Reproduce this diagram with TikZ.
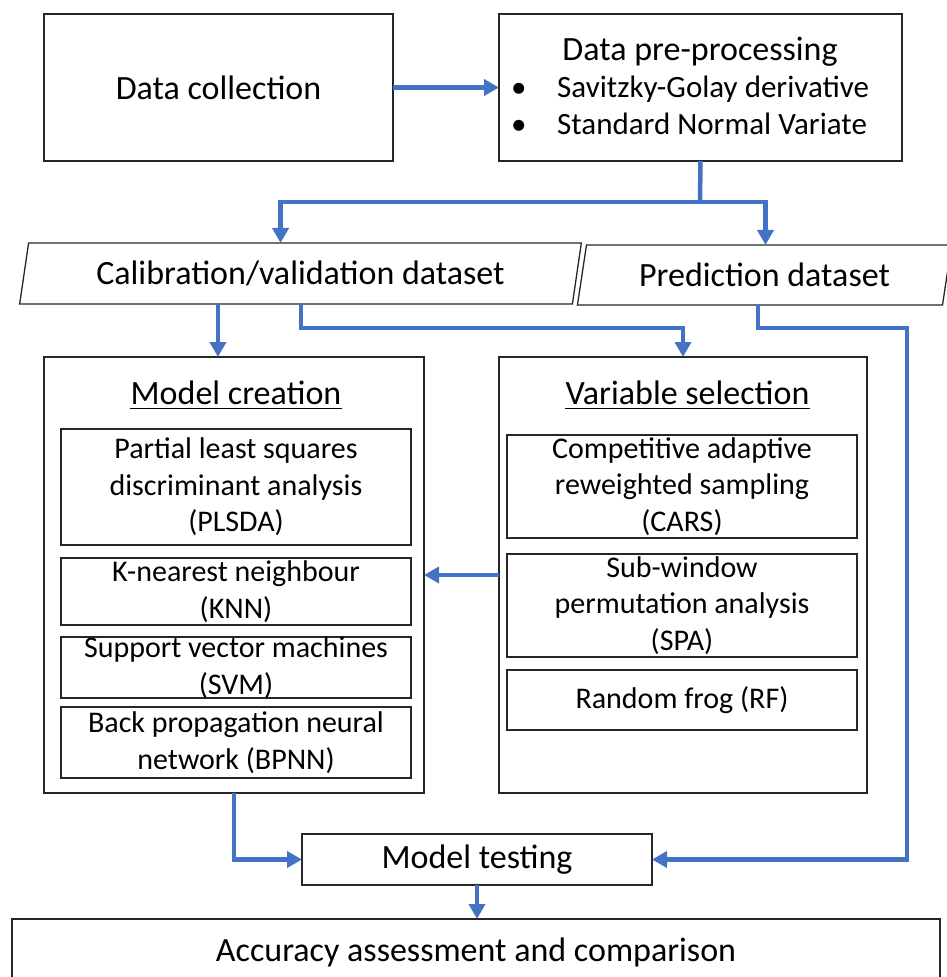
\documentclass[tikz,border=0pt]{standalone}
\usepackage{fontspec}
\setmainfont{Carlito}
\usetikzlibrary{arrows.meta,shapes.geometric}
\definecolor{flowblue}{HTML}{4472C4}
\definecolor{edgegray}{HTML}{262626}

\begin{document}
\begin{tikzpicture}[x=1pt,y=-1pt] % pixel grid, y goes down
\tikzstyle{box} = [draw=edgegray, line width=1.3pt, rectangle, inner sep=0pt, outer sep=0pt, align=center] % plain box
\tikzstyle{big} = [font=\fontsize{34}{41}\selectfont] % main labels
\tikzstyle{small} = [font=\fontsize{30}{36.5}\selectfont] % method boxes
\tikzstyle{method} = [box, small, minimum width=350, inner ysep=-4pt] % boxes inside the two panels
\tikzstyle{dataset} = [box, big, trapezium, trapezium left angle=75, trapezium right angle=105, trapezium stretches=true] % slanted data boxes
\tikzstyle{title} = [inner sep=0pt, big] % panel headings
\tikzstyle{flow} = [draw=flowblue, line width=4.5pt, -{Triangle[length=15pt,width=16pt]}] % blue arrows

\useasboundingbox (0,0) rectangle (946,977);

% top row
\node[box, big, minimum width=349, minimum height=147] (coll) at (218.5,87.5) {Data collection};
\node[box, minimum width=403, minimum height=147] (prep) at (700.5,87.5) {};
\node[title] (prept) at (700,52) {Data pre-processing};
\node[anchor=west, inner sep=0pt, font=\fontsize{31}{37}\selectfont] (prepl) at (511,108.5)
    {\begin{tabular}{@{}p{46pt}@{}l@{}}
     \textbullet & Savitzky-Golay derivative\\
     \textbullet & Standard Normal Variate
     \end{tabular}};

% datasets
\node[dataset, minimum width=563, minimum height=61] (cal) at (300.5,273.5) {Calibration/validation dataset};
\node[dataset, minimum width=375, minimum height=60] (pred) at (764.5,275) {Prediction dataset};

% model creation panel
\node[box, minimum width=380, minimum height=436] (mc) at (234,575) {};
\node[title] (mct) at (236,393) {Model creation};
\draw[line width=1.6pt] ([yshift=-4pt]mct.base west) -- ([yshift=-4pt]mct.base east);
\node[method, minimum height=116] (plsda) at (236,487) {Partial least squares\\discriminant analysis\\(PLSDA)};
\node[method, minimum height=67] (knn) at (236,591.5) {K-nearest neighbour\\(KNN)};
\node[method, minimum height=61] (svm) at (236,667.5) {Support vector machines\\(SVM)};
\node[method, minimum height=71] (bpnn) at (236,742.5) {Back propagation neural\\network (BPNN)};

% variable selection panel
\node[box, minimum width=368, minimum height=436] (vs) at (683,575) {};
\node[title] (vst) at (687.5,393) {Variable selection};
\draw[line width=1.6pt] ([yshift=-4pt]vst.base west) -- ([yshift=-4pt]vst.base east);
\node[method, minimum height=103] (cars) at (682,486.5) {Competitive adaptive\\reweighted sampling\\(CARS)};
\node[method, minimum height=103] (spa) at (682,605.5) {Sub-window\\permutation analysis\\(SPA)};
\node[method, minimum height=60] (rf) at (682,700) {Random frog (RF)};

% bottom
\node[box, big, minimum width=350, minimum height=51] (mt) at (477,859.5) {Model testing};
\node[box, big, minimum width=928, minimum height=66] (acc) at (476,952) {Accuracy assessment and comparison};

% connectors
\coordinate (split) at (700,202);
\coordinate (calin) at ([xshift=-20pt]cal.north);
\coordinate (predin) at ([xshift=1pt]pred.north);
\coordinate (mcin) at ([xshift=-16pt]mc.north);
\coordinate (calbend) at (301,328);
\coordinate (predbend) at (758,328);
\coordinate (loop) at (907,328);

\draw[flow] (coll.east) -- (prep.west);
\draw[draw=flowblue, line width=4.5pt] (prep.south) -- (split);
\draw[flow] (split) -| (calin);
\draw[flow] (split) -| (predin);
\draw[flow] (cal.south -| mcin) -- (mcin);
\draw[flow] (cal.south -| calbend) -- (calbend) -| (vs.north);
\draw[flow] (pred.south -| predbend) -- (predbend) -- (loop) |- (mt.east);
\draw[flow] (vs.west) -- (mc.east);
\draw[flow] (mc.south) |- (mt.west);
\draw[flow] (mt.south) -- (mt.south |- acc.north);
\end{tikzpicture}
\end{document}
